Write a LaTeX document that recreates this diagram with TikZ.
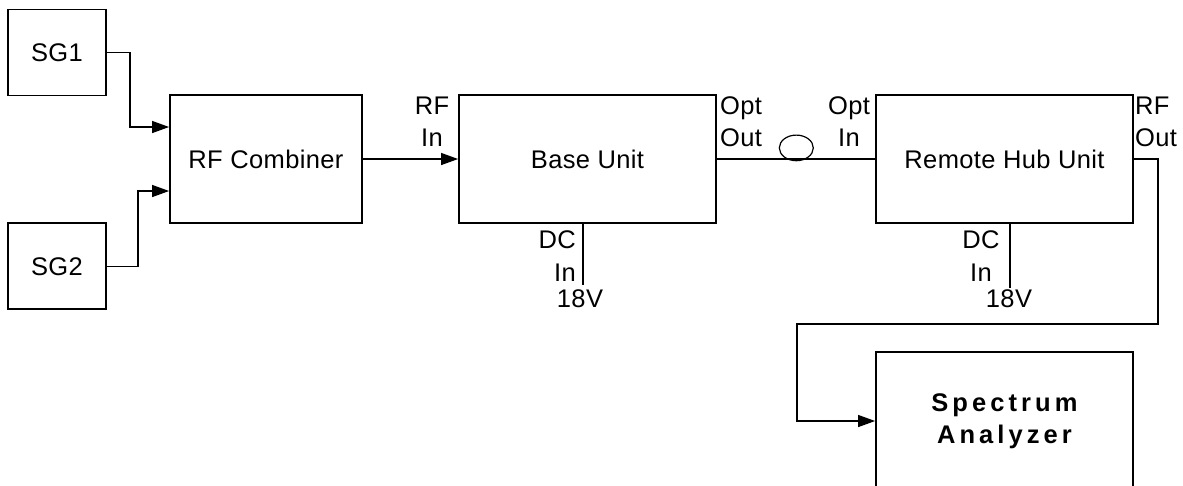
\documentclass[tikz,border=0pt]{standalone}
\usepackage{fontspec}
\setmainfont{Liberation Sans}[LetterSpace=1.5]
\newfontfamily\wideface{Liberation Sans}[LetterSpace=16]
\usetikzlibrary{arrows.meta, shapes.geometric}

\begin{document}
\begin{tikzpicture}[x=1pt, y=-1pt,
    every node/.style={font=\fontsize{25.5}{32.5}\selectfont},
    unit/.style={draw, line width=1.8pt, inner sep=0pt},
    wire/.style={line width=1.2pt},
    feed/.style={wire, -{Triangle[length=17pt, width=12pt]}},
    port/.style={inner sep=0pt}]
    \useasboundingbox (0,0) rectangle (1183,485);
    \clip (0,0) rectangle (1183,485);

    % signal generators and combiner
    \node[unit, minimum width=98pt, minimum height=86pt] (sgA) at (57,52.5) {SG1};
    \node[unit, minimum width=98pt, minimum height=86pt] (sgB) at (57,266.3) {SG2};
    \node[unit, minimum width=192pt, minimum height=128pt] (comb) at (266,159) {RF Combiner};

    % link units
    \node[unit, minimum width=257pt, minimum height=128pt] (base) at (587.5,159) {Base Unit};
    \node[unit, minimum width=257pt, minimum height=128pt] (hub) at (1004.5,159) {Remote Hub Unit};
    \node[unit, minimum width=257pt, minimum height=138pt, align=center,
          font=\fontsize{25.5}{32.5}\selectfont\wideface\bfseries] (sa) at (1004.5,421) {Spectrum\\Analyzer};

    % port labels (base = baseline of the last line)
    \node[port, anchor=base, align=center] (rfIn) at (432,146.8) {RF\\In};
    \node[port, anchor=base west, align=left] (optOut) at (720,146.8) {Opt\\Out};
    \node[port, anchor=base, align=center] (optIn) at (849,146.8) {Opt\\In};
    \node[port, anchor=base west, align=left] (rfOut) at (1135,146.8) {RF\\Out};
    \node[port, anchor=base east, align=right] (dcBase) at (576,281.3) {DC\\In};
    \node[port, anchor=base] (vBase) at (580,307) {18V};
    \node[port, anchor=base, align=center] (dcHub) at (981,281.3) {DC\\In};
    \node[port, anchor=base] (vHub) at (1009,307) {18V};

    % fibre coil
    \node[draw, ellipse, line width=1.2pt, inner sep=0pt,
          minimum width=34pt, minimum height=25.6pt] (coil) at (796.3,147.9) {};

    \coordinate (baseDC) at (583,285);
    \coordinate (hubDC) at (1010,288);
    \coordinate (bend) at (797,324);

    % connections
    \draw[feed] (sgA.east) -- ++(23,0) |- ([yshift=32pt]comb.west);
    \draw[feed] (sgB.east) -- ++(31,0) |- ([yshift=-32pt]comb.west);
    \draw[feed] (comb.east) -- (base.west);
    \draw[wire] (base.east) -- (hub.west);
    \draw[wire] (base.south -| baseDC) -- (baseDC);
    \draw[wire] (hub.south -| hubDC) -- (hubDC);
    \draw[feed] (hub.east) -- ++(24,0) |- (bend) |- (sa.west);
\end{tikzpicture}
\end{document}
